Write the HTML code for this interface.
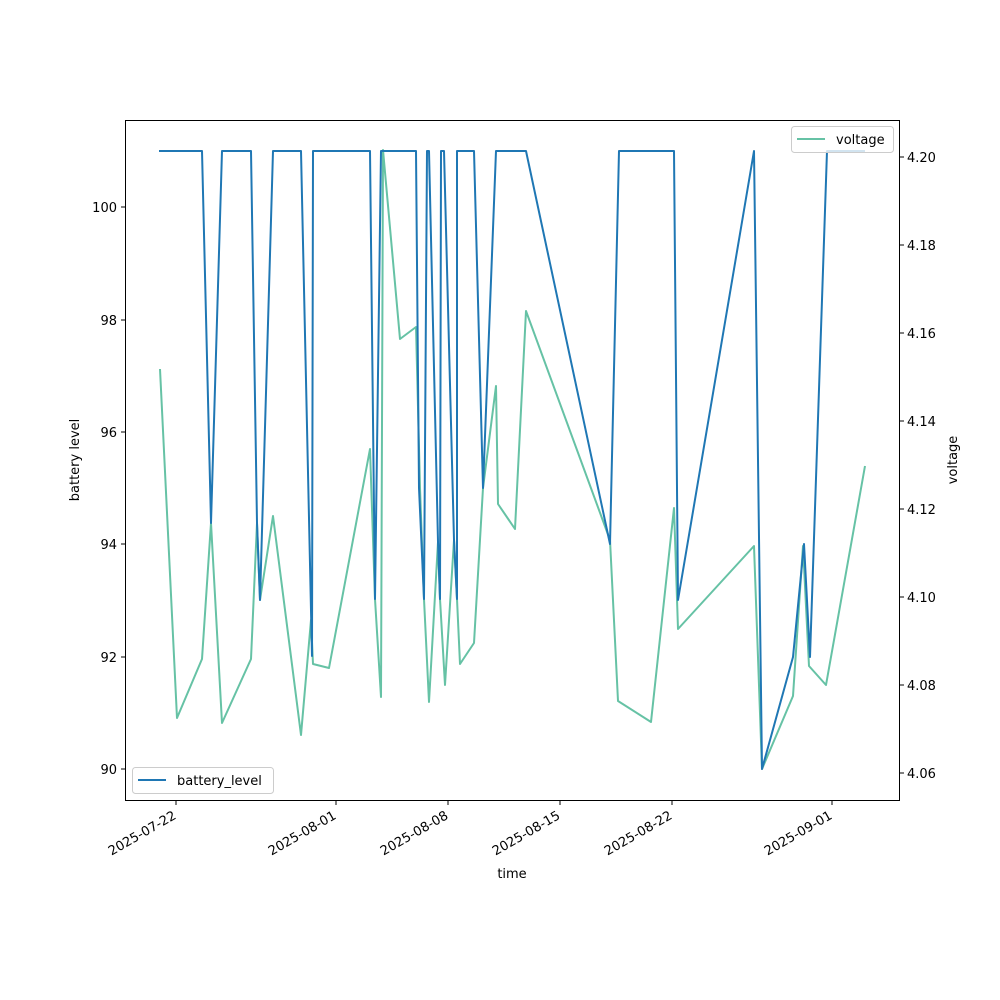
<!DOCTYPE html>
<html><head><meta charset="utf-8"><style>body{margin:0;background:#fff}svg{display:block}text{font-family:"DejaVu Sans","Liberation Sans",sans-serif;font-size:13px;fill:#000}</style></head>
<body>
<svg width="1000" height="1000" viewBox="0 0 1000 1000">
<rect x="0" y="0" width="1000" height="1000" fill="#fff"/>
<polyline fill="none" stroke="#66c2a5" stroke-width="2" stroke-linejoin="round" points="160,369 177,718 202,659 211,523 222,723 251,659 257,523 260,600 273,516 301,735 311,620 313,664 329,668 370,449 375,599 381,697 383,150 400,339 416,327 420,488 424,599 429,702 438,542 440,599 445,685 454,540 457,599 460,664 474,643 483,488 496,386 498,504 515,529 526,311 610,540 618,701 651,722 674,508 678,629 754,546 762,769 793,696 803,546 809,666 826,685 865,466"/>
<polyline fill="none" stroke="#1f77b4" stroke-width="2" stroke-linejoin="round" points="159,151 202,151 211,523 222,151 251,151 257,523 260,600 273,151 301,151 312,656 313,151 370,151 375,599 381,151 416,151 419,488 424,599 427,151 429,151 438,542 440,599 441,151 444,151 454,540 457,599 457,151 474,151 483,488 496,151 526,151 610,544 619,151 674,151 678,600 754,151 762,769 793,657 804,544 810,657 827,151 865,151"/>
<rect x="125.5" y="120.5" width="774" height="680" fill="none" stroke="#000" stroke-width="1"/>
<g stroke="#000">
<line x1="121" y1="769" x2="125" y2="769"/><line x1="121" y1="657" x2="125" y2="657"/><line x1="121" y1="544" x2="125" y2="544"/><line x1="121" y1="432" x2="125" y2="432"/><line x1="121" y1="320" x2="125" y2="320"/><line x1="121" y1="207" x2="125" y2="207"/>
<line x1="900" y1="773" x2="904" y2="773"/><line x1="900" y1="685" x2="904" y2="685"/><line x1="900" y1="597" x2="904" y2="597"/><line x1="900" y1="509" x2="904" y2="509"/><line x1="900" y1="421" x2="904" y2="421"/><line x1="900" y1="333" x2="904" y2="333"/><line x1="900" y1="245" x2="904" y2="245"/><line x1="900" y1="157" x2="904" y2="157"/>
<line x1="176" y1="801" x2="176" y2="805"/><line x1="336" y1="801" x2="336" y2="805"/><line x1="448" y1="801" x2="448" y2="805"/><line x1="560" y1="801" x2="560" y2="805"/><line x1="672" y1="801" x2="672" y2="805"/><line x1="832" y1="801" x2="832" y2="805"/>
</g>
<g text-anchor="end">
<text x="117" y="774">90</text><text x="117" y="662">92</text><text x="117" y="549">94</text><text x="117" y="437">96</text><text x="117" y="325">98</text><text x="117" y="212">100</text>
</g>
<g>
<text x="907" y="778">4.06</text><text x="907" y="690">4.08</text><text x="907" y="602">4.10</text><text x="907" y="514">4.12</text><text x="907" y="426">4.14</text><text x="907" y="338">4.16</text><text x="907" y="250">4.18</text><text x="907" y="162">4.20</text>
</g>
<g text-anchor="end">
<text transform="translate(177,818) rotate(-30)">2025-07-22</text>
<text transform="translate(337,818) rotate(-30)">2025-08-01</text>
<text transform="translate(449,818) rotate(-30)">2025-08-08</text>
<text transform="translate(561,818) rotate(-30)">2025-08-15</text>
<text transform="translate(673,818) rotate(-30)">2025-08-22</text>
<text transform="translate(833,818) rotate(-30)">2025-09-01</text>
</g>
<text x="512" y="878" text-anchor="middle">time</text>
<text transform="translate(79,460) rotate(-90)" text-anchor="middle">battery level</text>
<text transform="translate(957,460) rotate(-90)" text-anchor="middle">voltage</text>
<rect x="132.5" y="767.5" width="141" height="26" rx="3" fill="#fff" fill-opacity="0.8" stroke="#ccc"/>
<line x1="138" y1="780" x2="166" y2="780" stroke="#1f77b4" stroke-width="2"/>
<text x="177" y="785">battery_level</text>
<rect x="791.5" y="126.5" width="102" height="26" rx="3" fill="#fff" fill-opacity="0.8" stroke="#ccc"/>
<line x1="797" y1="139" x2="825" y2="139" stroke="#66c2a5" stroke-width="2"/>
<text x="836" y="144">voltage</text>
</svg>
</body></html>
